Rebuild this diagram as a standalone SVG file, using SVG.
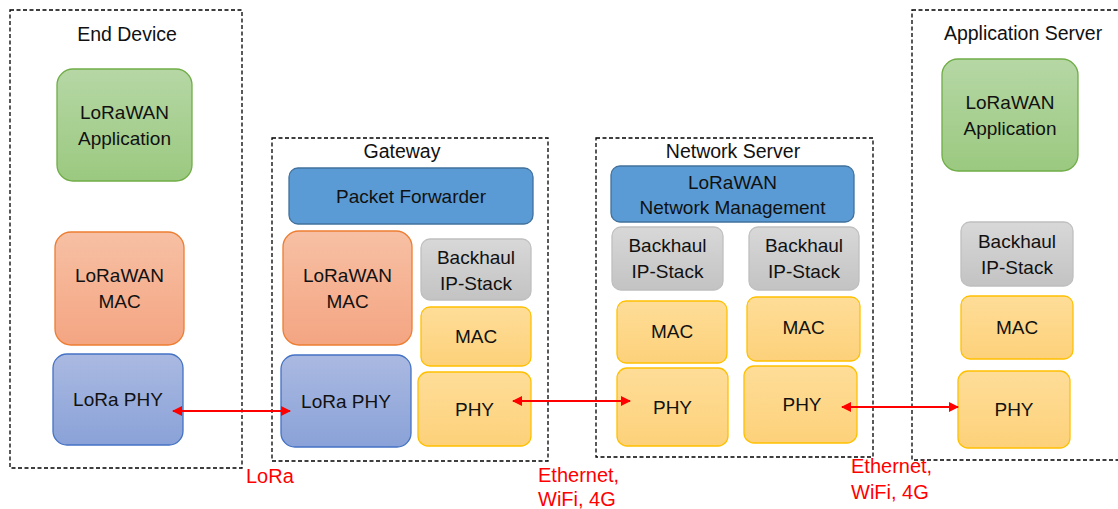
<svg xmlns="http://www.w3.org/2000/svg" width="1118" height="509" viewBox="0 0 1118 509">
  <defs>
    <linearGradient id="gGreen" x1="0" y1="0" x2="0" y2="1">
      <stop offset="0" stop-color="#b6d7a5"/>
      <stop offset="1" stop-color="#9bc980"/>
    </linearGradient>
    <linearGradient id="gOrange" x1="0" y1="0" x2="0" y2="1">
      <stop offset="0" stop-color="#f7c0a4"/>
      <stop offset="1" stop-color="#f4a582"/>
    </linearGradient>
    <linearGradient id="gBlue" x1="0" y1="0" x2="0" y2="1">
      <stop offset="0" stop-color="#aab9e1"/>
      <stop offset="1" stop-color="#8aa2d8"/>
    </linearGradient>
    <linearGradient id="gGray" x1="0" y1="0" x2="0" y2="1">
      <stop offset="0" stop-color="#d8d8d8"/>
      <stop offset="1" stop-color="#c3c3c3"/>
    </linearGradient>
    <linearGradient id="gYellow" x1="0" y1="0" x2="0" y2="1">
      <stop offset="0" stop-color="#fedd98"/>
      <stop offset="1" stop-color="#fdd17a"/>
    </linearGradient>
    <marker id="arrowHead" viewBox="0 0 10 10" refX="9" refY="5" markerWidth="5.5" markerHeight="5" orient="auto-start-reverse" markerUnits="strokeWidth">
      <path d="M0,0 L10,5 L0,10 z" fill="#ff0000"/>
    </marker>
    <style>
      text { font-family: "Liberation Sans", Arial, sans-serif; font-size: 19px; fill: #111; text-anchor: middle; }
      .title { font-size: 19.5px; }
      .frame { fill: none; stroke: #000; stroke-width: 1.3; stroke-dasharray: 4 2.5; }
      .green { fill: url(#gGreen); stroke: #70ad47; stroke-width: 1.3; }
      .orange { fill: url(#gOrange); stroke: #ed7d31; stroke-width: 1.3; }
      .blue { fill: url(#gBlue); stroke: #4472c4; stroke-width: 1.3; }
      .solid { fill: #5b9bd5; stroke: #41719c; stroke-width: 1.3; }
      .gray { fill: url(#gGray); stroke: #bfbfbf; stroke-width: 1.3; }
      .yellow { fill: url(#gYellow); stroke: #ffc000; stroke-width: 1.3; }
      .link { stroke: #ff0000; stroke-width: 2; fill: none; marker-start: url(#arrowHead); marker-end: url(#arrowHead); }
      .red { fill: #ff0000; text-anchor: start; font-size: 20px; }
    </style>
  </defs>

  <!-- End Device -->
  <g id="end-device">
    <rect class="frame" x="10" y="10" width="232" height="458"/>
    <text class="title" x="127" y="41">End Device</text>
  </g>
  <g id="ed-app">
    <rect class="green" x="57" y="69" width="135" height="112" rx="16"/>
    <text x="124.5" y="119">LoRaWAN</text>
    <text x="124.5" y="145">Application</text>
  </g>
  <g id="ed-mac">
    <rect class="orange" x="55" y="232" width="129" height="113" rx="16"/>
    <text x="119.5" y="282">LoRaWAN</text>
    <text x="119.5" y="308">MAC</text>
  </g>
  <g id="ed-phy">
    <rect class="blue" x="53" y="354" width="130" height="91" rx="14"/>
    <text x="118" y="406">LoRa PHY</text>
  </g>

  <!-- Gateway -->
  <g id="gateway">
    <rect class="frame" x="272" y="138" width="276" height="323"/>
    <text class="title" x="402" y="158">Gateway</text>
  </g>
  <g id="gw-forwarder">
    <rect class="solid" x="289" y="168" width="244" height="56" rx="9"/>
    <text x="411" y="203">Packet Forwarder</text>
  </g>
  <g id="gw-mac">
    <rect class="orange" x="283" y="231" width="129" height="114" rx="16"/>
    <text x="347.5" y="282">LoRaWAN</text>
    <text x="347.5" y="308">MAC</text>
  </g>
  <g id="gw-backhaul">
    <rect class="gray" x="421" y="239" width="110" height="61" rx="9"/>
    <text x="476" y="264">Backhaul</text>
    <text x="476" y="290">IP-Stack</text>
  </g>
  <g id="gw-ipmac">
    <rect class="yellow" x="421" y="307" width="110" height="59" rx="9"/>
    <text x="476" y="343">MAC</text>
  </g>
  <g id="gw-lora-phy">
    <rect class="blue" x="281" y="355" width="130" height="92" rx="14"/>
    <text x="346" y="408">LoRa PHY</text>
  </g>
  <g id="gw-phy">
    <rect class="yellow" x="418" y="372" width="113" height="74" rx="10"/>
    <text x="474.5" y="416">PHY</text>
  </g>

  <!-- Network Server -->
  <g id="network-server">
    <rect class="frame" x="596" y="138" width="277" height="319"/>
    <text class="title" x="733" y="158">Network Server</text>
  </g>
  <g id="ns-management">
    <rect class="solid" x="611" y="166" width="243" height="56" rx="9"/>
    <text x="732.5" y="189">LoRaWAN</text>
    <text x="732.5" y="214">Network Management</text>
  </g>
  <g id="ns-backhaul-1">
    <rect class="gray" x="612" y="227" width="111" height="63" rx="9"/>
    <text x="667.5" y="252">Backhaul</text>
    <text x="667.5" y="278">IP-Stack</text>
  </g>
  <g id="ns-backhaul-2">
    <rect class="gray" x="749" y="227" width="110" height="63" rx="9"/>
    <text x="804" y="252">Backhaul</text>
    <text x="804" y="278">IP-Stack</text>
  </g>
  <g id="ns-mac-1">
    <rect class="yellow" x="617" y="301" width="110" height="62" rx="9"/>
    <text x="672" y="338">MAC</text>
  </g>
  <g id="ns-mac-2">
    <rect class="yellow" x="747" y="297" width="113" height="64" rx="9"/>
    <text x="803.5" y="334">MAC</text>
  </g>
  <g id="ns-phy-1">
    <rect class="yellow" x="617" y="368" width="111" height="78" rx="10"/>
    <text x="672.5" y="414">PHY</text>
  </g>
  <g id="ns-phy-2">
    <rect class="yellow" x="744" y="366" width="113" height="77" rx="10"/>
    <text x="802" y="411">PHY</text>
  </g>

  <!-- Application Server -->
  <g id="application-server">
    <rect class="frame" x="912" y="10" width="220" height="450"/>
    <text class="title" x="1023" y="40">Application Server</text>
  </g>
  <g id="as-app">
    <rect class="green" x="942" y="59" width="136" height="112" rx="16"/>
    <text x="1010" y="109">LoRaWAN</text>
    <text x="1010" y="135">Application</text>
  </g>
  <g id="as-backhaul">
    <rect class="gray" x="961" y="222" width="112" height="64" rx="9"/>
    <text x="1017" y="248">Backhaul</text>
    <text x="1017" y="274">IP-Stack</text>
  </g>
  <g id="as-mac">
    <rect class="yellow" x="961" y="296" width="112" height="63" rx="9"/>
    <text x="1017" y="334">MAC</text>
  </g>
  <g id="as-phy">
    <rect class="yellow" x="958" y="371" width="112" height="77" rx="10"/>
    <text x="1014" y="416">PHY</text>
  </g>

  <!-- Links between the physical layers -->
  <g id="connectors">
    <line class="link" x1="173" y1="411" x2="290" y2="411"/>
    <line class="link" x1="513" y1="401" x2="630" y2="401"/>
    <line class="link" x1="842" y1="407" x2="958" y2="407"/>
    <text class="red" x="246" y="483">LoRa</text>
    <text class="red" x="538" y="482">Ethernet,</text>
    <text class="red" x="538" y="506">WiFi, 4G</text>
    <text class="red" x="851" y="473">Ethernet,</text>
    <text class="red" x="851" y="499">WiFi, 4G</text>
  </g>
</svg>
